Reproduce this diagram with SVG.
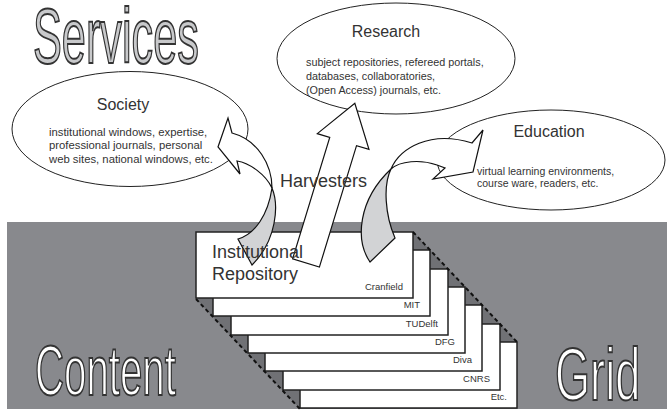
<svg xmlns="http://www.w3.org/2000/svg" width="667" height="413" viewBox="0 0 667 413">
<style>
  text { font-family: "Liberation Sans", Arial, sans-serif; fill: #333; }
  .ell { fill: #fff; stroke: #222; stroke-width: 1; }
  .title { font-size: 16px; text-anchor: middle; }
  .card { fill: #fff; stroke: #222; stroke-width: 1.5; }
  .lbl { font-size: 9.5px; text-anchor: end; }
  .big { stroke: #333; stroke-width: 2; }
  .dash { stroke: #111; stroke-width: 2; stroke-dasharray: 4 3; fill: none; }
  .arw { fill: #fff; stroke: #111; stroke-width: 1.2; stroke-linejoin: miter; }
  .arwback { fill: #d2d3d5; stroke: #111; stroke-width: 1.2; }
  .ir { font-size: 18px; }
</style>
<rect width="667" height="413" fill="#fff"/>
<g id="grid-band">
  <rect x="7" y="222" width="660" height="187" fill="#88898d"/>
</g>
<g id="services-title">
  <text class="big" transform="translate(33,63) scale(0.555,1)" x="0" y="0" font-size="78" style="fill:#c8c9cb">Services</text>
</g>
<g id="repository-stack">
  <polygon points="196,232 413,232 517,342 517,409 300,409 196,299" fill="#707175"/>
  <g id="card-etc"><rect class="card" x="300" y="342" width="217" height="66"/><text class="lbl" x="507" y="400">Etc.</text></g>
  <g id="card-cnrs"><rect class="card" x="283" y="324" width="217" height="66"/><text class="lbl" x="490" y="382">CNRS</text></g>
  <g id="card-diva"><rect class="card" x="265" y="305" width="217" height="66"/><text class="lbl" x="472" y="363">Diva</text></g>
  <g id="card-dfg"><rect class="card" x="248" y="287" width="217" height="66"/><text class="lbl" x="455" y="345">DFG</text></g>
  <g id="card-tudelft"><rect class="card" x="231" y="269" width="217" height="66"/><text class="lbl" x="438" y="327">TUDelft</text></g>
  <g id="card-mit"><rect class="card" x="213" y="250" width="217" height="66"/><text class="lbl" x="420" y="308">MIT</text></g>
  <g id="card-cranfield"><rect class="card" x="196" y="232" width="217" height="66"/><text class="lbl" x="403" y="290">Cranfield</text></g>
  <line class="dash" x1="413" y1="232" x2="517" y2="342"/>
  <line class="dash" x1="196" y1="299" x2="300" y2="409"/>
</g>
<g id="research">
  <ellipse class="ell" cx="396" cy="58.5" rx="119" ry="55.5"/>
  <text class="title" x="386" y="37">Research</text>
  <text x="306" y="66" font-size="10.8">subject repositories, refereed portals,</text>
  <text x="306" y="80" font-size="10.8">databases, collaboratories,</text>
  <text x="306" y="94" font-size="10.8">(Open Access) journals, etc.</text>
</g>
<g id="society">
  <ellipse class="ell" cx="130" cy="129" rx="118" ry="57.5"/>
  <text class="title" x="123" y="110">Society</text>
  <text x="49" y="135.5" font-size="11.3">institutional windows, expertise,</text>
  <text x="49" y="149" font-size="11.3">professional journals, personal</text>
  <text x="49" y="163" font-size="11.3">web sites, national windows, etc.</text>
</g>
<g id="education">
  <ellipse class="ell" cx="551" cy="160" rx="114" ry="50"/>
  <text class="title" x="549" y="137">Education</text>
  <text x="477" y="175" font-size="10.5">virtual learning environments,</text>
  <text x="477" y="187" font-size="10.5">course ware, readers, etc.</text>
</g>
<g id="connectors">
  <g id="arrow-society">
    <path class="arwback" d="M272,188 C279,205 277,240 252,265 L238,239 C255,234 268,215 272,188 Z"/>
    <path class="arw" d="M272,188 C272,165 258,140 232,133 L228,118 L218,147 L240,174 L237,161 C250,163 266,175 272,188 Z"/>
  </g>
  <g id="arrow-research">
    <polygon class="arw" transform="translate(306,263) rotate(17)" points="-14,0 -14,-127 -27,-127 0,-167 27,-127 14,-127 14,0"/>
  </g>
  <g id="arrow-education">
    <path class="arwback" d="M391,169 C383,185 385,215 395,238 L370,262 C355,240 358,200 391,169 Z"/>
    <path class="arw" d="M391,169 C400,148 430,130 472,143 L483,130 L473,172 L433,179 L445,168 L437,165 C420,159 400,161 391,169 Z"/>
  </g>
</g>
<g id="harvesters">
  <text x="280" y="187" font-size="18">Harvesters</text>
</g>
<g id="institutional-repository">
  <text class="ir" x="212" y="258">Institutional</text>
  <text class="ir" x="212" y="280">Repository</text>
</g>
<g id="content-title">
  <text class="big" transform="translate(35,395) scale(0.575,1)" x="0" y="0" font-size="70" style="fill:#fff">Content</text>
</g>
<g id="grid-title">
  <text class="big" transform="translate(555,400) scale(0.61,1)" x="0" y="0" font-size="74" style="fill:#fff">Grid</text>
</g>
</svg>
